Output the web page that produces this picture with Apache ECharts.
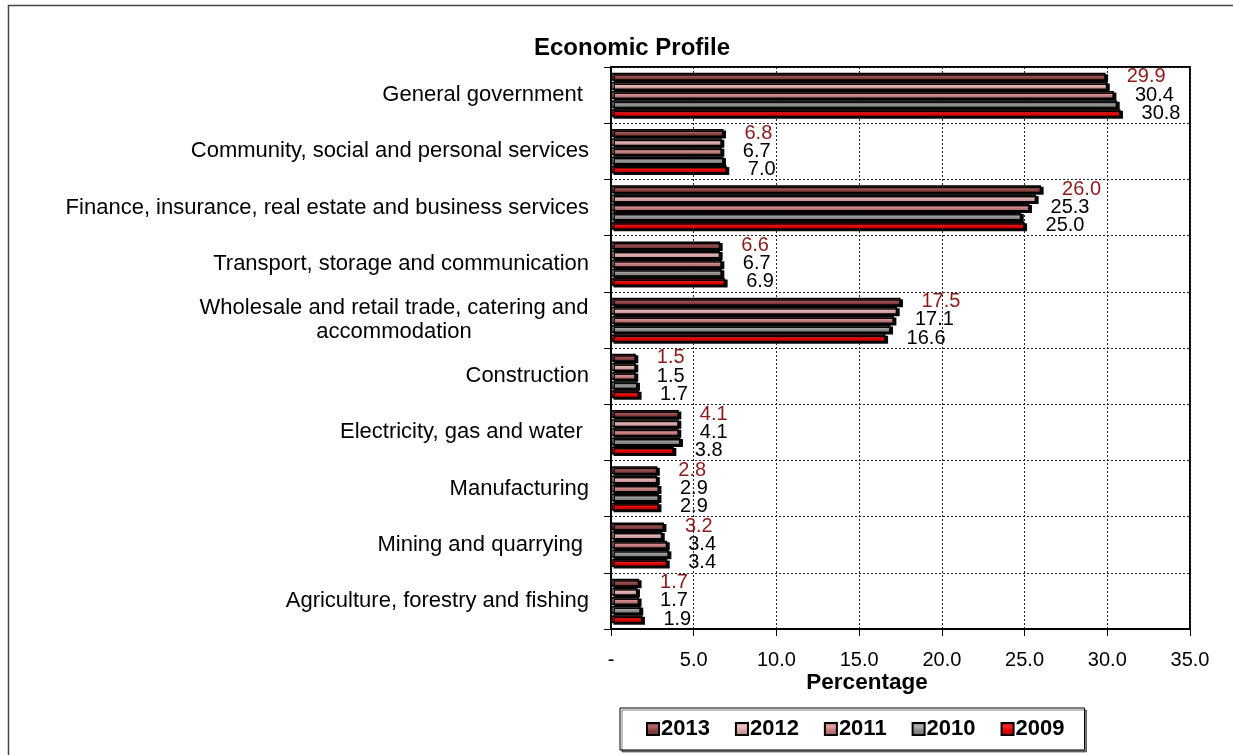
<!DOCTYPE html>
<html>
<head>
<meta charset="utf-8">
<script src="https://cdn.jsdelivr.net/npm/echarts@6/dist/echarts.min.js"></script>
<style>
html,body{margin:0;padding:0;background:#fff;}
#chart{width:1233px;height:755px;}
</style>
</head>
<body>
<div id="chart"></div>
<script>
// Categories, top to bottom
const categories = [
  "General government ",
  "Community, social and personal services",
  "Finance, insurance, real estate and business services",
  "Transport, storage and communication",
  "Wholesale and retail trade, catering and\naccommodation",
  "Construction",
  "Electricity, gas and water ",
  "Manufacturing",
  "Mining and quarrying ",
  "Agriculture, forestry and fishing"
];
const years = ["2013", "2012", "2011", "2010", "2009"];
const v2013 = [29.9, 6.8, 26.0, 6.6, 17.5, 1.5, 4.1, 2.8, 3.2, 1.7];
const v2012 = [30.0, 6.7, 25.7, 6.6, 17.3, 1.5, 4.1, 2.8, 3.1, 1.6];
const v2011 = [30.4, 6.7, 25.3, 6.7, 17.1, 1.5, 4.1, 2.9, 3.4, 1.7];
const v2010 = [30.6, 6.8, 24.8, 6.7, 16.9, 1.6, 4.2, 2.9, 3.5, 1.8];
const v2009 = [30.8, 7.0, 25.0, 6.9, 16.6, 1.7, 3.8, 2.9, 3.4, 1.9];
const xTicks = [0, 5, 10, 15, 20, 25, 30, 35];

const seriesValues = [v2013, v2012, v2011, v2010, v2009];
const palette = [
  ["#6e2c2c", "#b46a6a", "#8a4242"],
  ["#b88484", "#f2c8c8", "#d8a6a6"],
  ["#a46262", "#e8a4a4", "#c07a7a"],
  ["#707070", "#b4b4b4", "#8c8c8c"],
  ["#a80000", "#ff2a2a", "#e00000"]
];
const labelShown = [true, false, true, false, true];
const labelColors = ["#8b1a1a", "#000", "#000", "#000", "#000"];
const FONT = "Liberation Sans, Arial, sans-serif";

function grad(c) {
  return new echarts.graphic.LinearGradient(0, 0, 0, 1, [
    {offset: 0, color: c[0]},
    {offset: 0.3, color: c[1]},
    {offset: 0.6, color: c[2]},
    {offset: 1, color: c[0]}
  ]);
}

const series = years.map((y, i) => ({
  name: y,
  type: "bar",
  data: seriesValues[i],
  barWidth: 8,
  barGap: "14%",
  barCategoryGap: "14%",
  itemStyle: {
    color: grad(palette[i]),
    borderColor: "#000",
    borderWidth: 1.5,
    shadowColor: "rgba(0,0,0,0.95)",
    shadowBlur: 0,
    shadowOffsetX: 2.5,
    shadowOffsetY: 1.5
  },
  label: {
    show: labelShown[i],
    position: "right",
    distance: 21,
    color: labelColors[i],
    fontFamily: FONT,
    fontSize: 20,
    formatter: p => p.value.toFixed(1)
  }
}));

const chart = echarts.init(document.getElementById("chart"));
chart.setOption({
  animation: false,
  backgroundColor: "#fff",
  textStyle: {fontFamily: FONT},
  graphic: [
    {type: "polyline", shape: {points: [[8.5, 760], [8.5, 5.5], [1240, 5.5]]},
      style: {stroke: "#444", lineWidth: 1.5, fill: null}},
    {type: "text", x: 632, y: 48,
      style: {text: "Economic Profile", fontSize: 24, fontWeight: "bold",
        fontFamily: FONT, fill: "#000",
        textAlign: "center", textVerticalAlign: "middle"}},
    {type: "text", x: 867, y: 683,
      style: {text: "Percentage", fontSize: 22.5, fontWeight: "bold",
        fontFamily: FONT, fill: "#000",
        textAlign: "center", textVerticalAlign: "middle"}}
  ],
  grid: {
    left: 611, right: 43, top: 67, bottom: 126,
    show: true, borderColor: "#000", borderWidth: 2, backgroundColor: "transparent"
  },
  legend: {
    data: years,
    left: 620, top: 708, width: 468, height: 42,
    padding: [10, 20, 10, 26],
    itemGap: 25,
    itemWidth: 12, itemHeight: 12,
    icon: "rect",
    borderColor: "#000", borderWidth: 1,
    backgroundColor: "#fff",
    shadowColor: "rgba(0,0,0,0.5)", shadowBlur: 0, shadowOffsetX: 2, shadowOffsetY: 2,
    textStyle: {fontSize: 22, fontWeight: "bold", color: "#000", padding: [0, 0, 0, -3],
      fontFamily: FONT}
  },
  xAxis: {
    type: "value",
    min: xTicks[0], max: xTicks[xTicks.length - 1], interval: 5,
    axisLine: {show: true, lineStyle: {color: "#000", width: 2}},
    axisTick: {show: true, length: 7, lineStyle: {color: "#000", width: 1}},
    splitLine: {show: true, lineStyle: {color: "#222", type: [2, 2], width: 1}},
    axisLabel: {
      margin: 21, fontSize: 20, color: "#000",
      fontFamily: FONT,
      formatter: v => v === 0 ? "-" : v.toFixed(1)
    }
  },
  yAxis: {
    type: "category",
    inverse: true,
    data: categories,
    axisLine: {show: true, lineStyle: {color: "#000", width: 2}},
    axisTick: {show: true, length: 7, lineStyle: {color: "#000", width: 1}},
    splitLine: {show: true, lineStyle: {color: "#222", type: [2, 2], width: 1}},
    axisLabel: {
      margin: 22, fontSize: 22, color: "#000", align: "right",
      fontFamily: FONT,
      formatter: v => v.indexOf("\n") >= 0 ? v.split("\n").map(s => "{c|" + s + "}").join("\n") : v,
      rich: {c: {width: 390, align: "center", fontSize: 22, lineHeight: 24,
        fontFamily: FONT, color: "#000"}}
    }
  },
  series: series
});
</script>
</body>
</html>
